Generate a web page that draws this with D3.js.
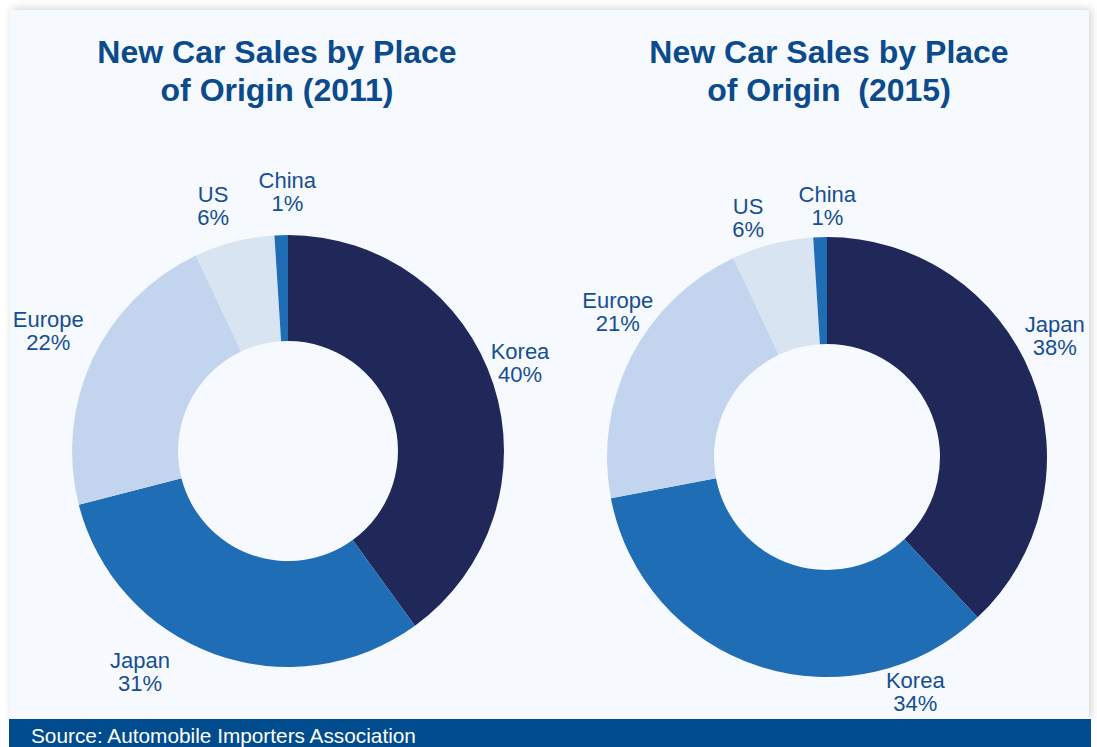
<!DOCTYPE html>
<html>
<head>
<meta charset="utf-8">
<script src="https://cdn.jsdelivr.net/npm/d3@7/dist/d3.min.js"></script>
<style>
  html, body { margin: 0; padding: 0; background: #ffffff; }
  svg { display: block; font-family: "Liberation Sans", Arial, Helvetica, sans-serif; }
  .title { white-space: pre; }
</style>
</head>
<body>
<svg id="chart" width="1097" height="747"></svg>
<script>
// Market share of new car sales by place of origin
const origins2011 = ["Korea", "Japan", "Europe", "US", "China"];
const shares2011  = [40, 31, 22, 6, 1];
const origins2015 = ["Japan", "Korea", "Europe", "US", "China"];
const shares2015  = [38, 34, 21, 6, 1];

const titles = [
  ["New Car Sales by Place", "of Origin (2011)"],
  ["New Car Sales by Place", "of Origin  (2015)"]
];
const sourceNote = "Source: Automobile Importers Association";

// Slice colours per origin
const originColor = {
  Korea:  "#1f2859",
  Japan:  "#1f6db4",
  Europe: "#c3d5ee",
  US:     "#d8e4f2",
  China:  "#1f6db4"
};
// In 2015 Japan takes the dark slice and Korea the medium one
const originColor2015 = Object.assign({}, originColor, { Japan: "#1f2859", Korea: "#1f6db4" });

const svg = d3.select("#chart");

// Panel with a soft shadow
const defs = svg.append("defs");
const f = defs.append("filter").attr("id", "shadow")
  .attr("x", "-5%").attr("y", "-5%").attr("width", "110%").attr("height", "110%");
f.append("feDropShadow").attr("dx", 2).attr("dy", -1).attr("stdDeviation", 4)
  .attr("flood-color", "#000").attr("flood-opacity", 0.18);

svg.append("rect").attr("x", 10).attr("y", 10).attr("width", 1079).attr("height", 709)
  .attr("fill", "#f6f9fd").attr("filter", "url(#shadow)");

// Source strip
svg.append("rect").attr("x", 9).attr("y", 719).attr("width", 1082).attr("height", 28)
  .attr("fill", "#004c8e");
svg.append("text").attr("x", 31).attr("y", 742.5)
  .attr("fill", "#ffffff").attr("font-size", 20.8)
  .text(sourceNote);

const charts = [
  {
    names: origins2011, values: shares2011, colors: originColor, title: titles[0],
    cx: 288, cy: 451, r: 216, ri: 110, titleX: 277,
    // label nudges from the slice centroid at labelR
    nudge: { Korea: [-1, -12], Japan: [-65, -10], Europe: [-18, -16], US: [-14, -8], China: [7, -14] }
  },
  {
    names: origins2015, values: shares2015, colors: originColor2015, title: titles[1],
    cx: 827, cy: 457, r: 220, ri: 113, titleX: 829,
    nudge: { Japan: [0, -31], Korea: [164, 2], Europe: [9, -34], US: [-18, -2], China: [8, -6] }
  }
];

const pie = d3.pie().sort(null).value(d => d.value);

charts.forEach(c => {
  const data = c.names.map((n, i) => ({ name: n, value: c.values[i] }));
  const arcs = pie(data);
  const g = svg.append("g").attr("transform", `translate(${c.cx},${c.cy})`);

  const arc = d3.arc().innerRadius(c.ri).outerRadius(c.r);
  g.selectAll("path").data(arcs).join("path")
    .attr("d", arc)
    .attr("fill", d => c.colors[d.data.name]);

  const labelR = 245;
  const labelArc = d3.arc().innerRadius(labelR).outerRadius(labelR);
  const lab = g.selectAll("text.lab").data(arcs).join("text")
    .attr("class", "lab")
    .attr("text-anchor", "middle")
    .attr("fill", "#164f91")
    .attr("font-size", 22)
    .attr("transform", d => {
      const [x, y] = labelArc.centroid(d);
      const n = c.nudge[d.data.name];
      return `translate(${x + n[0]},${y + n[1]})`;
    });
  lab.append("tspan").attr("x", 0).attr("y", -4).text(d => d.data.name);
  lab.append("tspan").attr("x", 0).attr("y", 19).text(d => d.data.value + "%");

  // Title
  const t = svg.append("text")
    .attr("class", "title")
    .attr("text-anchor", "middle")
    .attr("fill", "#0b4a8b")
    .attr("font-size", 32)
    .attr("font-weight", "bold");
  t.append("tspan").attr("x", c.titleX).attr("y", 63).text(c.title[0]);
  t.append("tspan").attr("x", c.titleX).attr("y", 101).text(c.title[1]);
});
</script>
</body>
</html>
